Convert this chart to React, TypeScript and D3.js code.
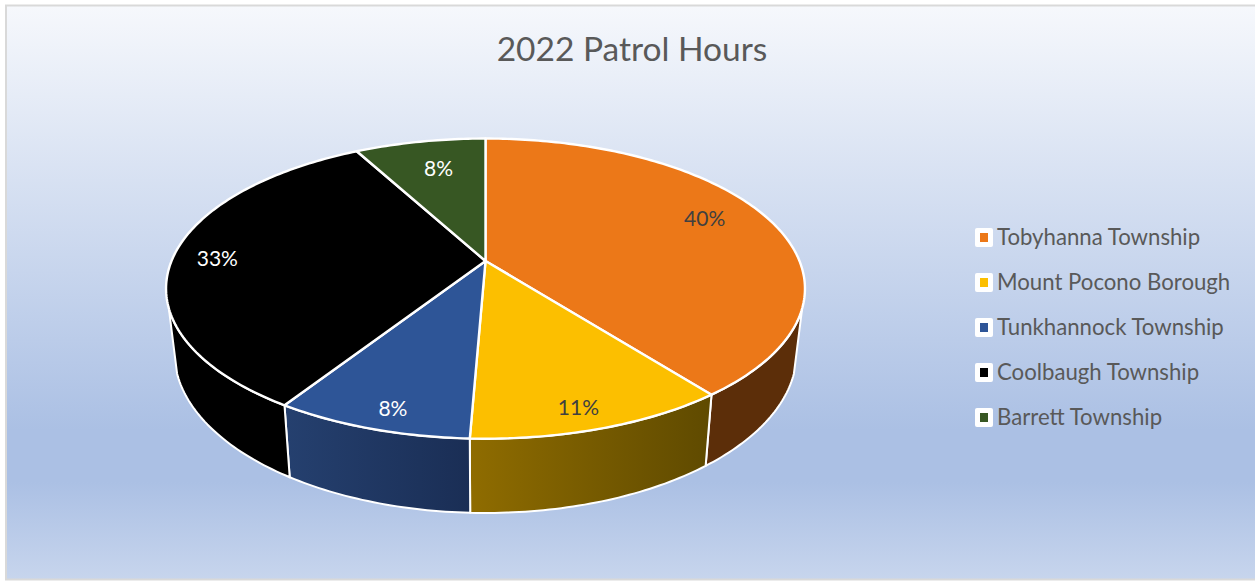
import React from 'react';
import * as d3 from 'd3';

const categories = ['Tobyhanna Township', 'Mount Pocono Borough', 'Tunkhannock Township', 'Coolbaugh Township', 'Barrett Township'];
const hoursShare = [39.45, 11.2, 8.45, 33.0, 7.9];
const percentLabels = ['40%', '11%', '8%', '33%', '8%'];
const topColors = ['#ec7818', '#fcbf00', '#2e5597', '#000000', '#375723'];
const labelColors = ['#404040', '#404040', '#ffffff', '#ffffff', '#ffffff'];
const labelNudge = [[-21, -4], [-3, 9], [2, 10], [-3, 2], [10, 11]];

const width = 1255;
const height = 581;
const cx = 485.5;
const cy = 261;
const tilt = 0.184; // perspective, far edge of the pie is smaller
const xScale = d3.scaleLinear().domain([-1, 1]).range([cx - 314, cx + 314]);
const yScale = d3.scaleLinear().domain([-1, 1]).range([cy + 145, cy - 145]);
const wallFrom = (108 * Math.PI) / 180;
const wallTo = (252 * Math.PI) / 180;

const topPoint = (a: number, r = 1): [number, number] => {
  const w = 1 + tilt * Math.cos(a) * r;
  return [xScale((Math.sin(a) * r) / w), yScale((Math.cos(a) * r) / w)];
};

const bottomPoint = (a: number): [number, number] => {
  const [x, y] = topPoint(a);
  return [cx + (x - cx) * 0.974, 513 + (y - cy - 177.7) * 1.07];
};

const sample = (a0: number, a1: number) => {
  const n = Math.max(2, Math.ceil(Math.abs(a1 - a0) * 60));
  return d3.range(n + 1).map((i) => a0 + ((a1 - a0) * i) / n);
};

const line = d3.line();
const slices = d3.pie<number>().sort(null)(hoursShare);

export default function App() {
  return (
    <svg
      width={width}
      height={height}
      style={{ position: 'fixed', left: 0, top: 0, display: 'block', background: '#fff' }}
      fontFamily="Lato, 'Open Sans', sans-serif"
    >
      <defs>
        <linearGradient id="bg" x1="0" y1="0" x2="0" y2="1">
          <stop offset="0" stopColor="#f6f8fc" />
          <stop offset="0.74" stopColor="#abc0e4" />
          <stop offset="0.83" stopColor="#abc0e4" />
          <stop offset="1" stopColor="#c7d5ed" />
        </linearGradient>
        <linearGradient id="wall1">
          <stop offset="0" stopColor="#8f6c00" />
          <stop offset="1" stopColor="#5f4a00" />
        </linearGradient>
        <linearGradient id="wall2">
          <stop offset="0" stopColor="#25406f" />
          <stop offset="1" stopColor="#1a2e55" />
        </linearGradient>
      </defs>
      <rect x={6} y={5.5} width={width} height={574} fill="url(#bg)" stroke="#d9d9d9" strokeWidth={2} />
      <text x={632} y={61} textAnchor="middle" fontSize={33.5} fill="#595959">2022 Patrol Hours</text>

      {slices.map((s, i) => {
        const a0 = Math.max(s.startAngle, wallFrom);
        const a1 = Math.min(s.endAngle, wallTo);
        if (a1 <= a0) return null;
        const top = sample(a0, a1).map((a) => topPoint(a));
        const bottom = sample(a0, a1).map(bottomPoint).reverse();
        const fill = i === 0 ? '#5c2e09' : i === 1 ? 'url(#wall1)' : i === 2 ? 'url(#wall2)' : '#000';
        return <path key={i} d={line([...top, ...bottom]) + 'Z'} fill={fill} stroke="#fff" strokeWidth={2} strokeLinejoin="round" />;
      })}

      {slices.map((s, i) => {
        const rim = sample(s.startAngle, s.endAngle).map((a) => topPoint(a));
        return <path key={i} d={line([[cx, cy], ...rim]) + 'Z'} fill={topColors[i]} stroke="#fff" strokeWidth={2.4} strokeLinejoin="round" />;
      })}

      {slices.map((s, i) => {
        const [x, y] = topPoint((s.startAngle + s.endAngle) / 2, 0.85);
        return (
          <text key={i} x={x + labelNudge[i][0]} y={y + labelNudge[i][1]} dy="0.35em" textAnchor="middle" fontSize={21} fill={labelColors[i]}>
            {percentLabels[i]}
          </text>
        );
      })}

      {categories.map((c, i) => {
        const y = 237.5 + i * 45;
        return (
          <g key={c}>
            <rect x={975} y={y - 9.5} width={18} height={19} rx={2} fill="#fff" />
            <rect x={980} y={y - 4.5} width={8} height={9} fill={topColors[i]} />
            <text x={997} y={y} dy="0.35em" fontSize={22.2} fill="#595959">{c}</text>
          </g>
        );
      })}
    </svg>
  );
}
